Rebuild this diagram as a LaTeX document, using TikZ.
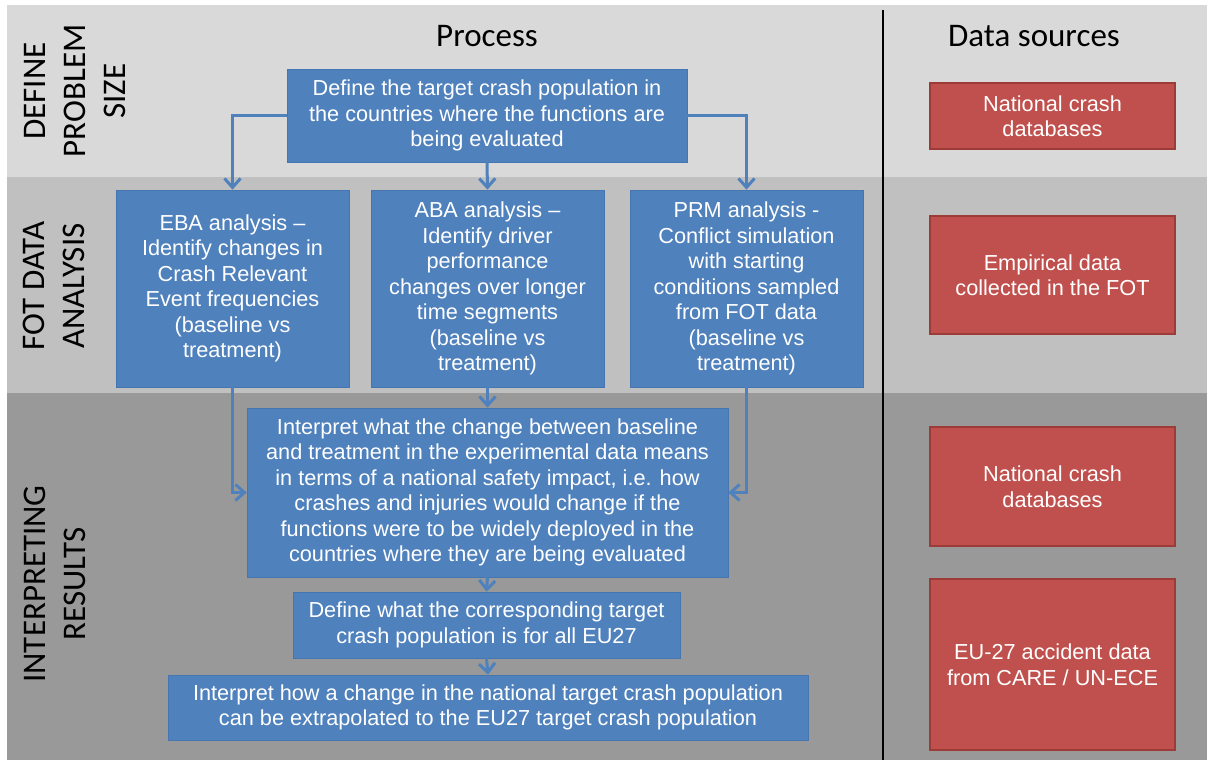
\documentclass[tikz,border=0pt]{standalone}
\usepackage{fontspec}
\setmainfont{Liberation Sans}
\newfontfamily\calib{Carlito}
\usetikzlibrary{arrows.meta}
\definecolor{bandA}{HTML}{D9D9D9}
\definecolor{bandB}{HTML}{C0C0C0}
\definecolor{bandC}{HTML}{999999}
\definecolor{boxblue}{HTML}{4F81BD}
\definecolor{boxblueline}{HTML}{4676B0}
\definecolor{boxred}{HTML}{C0504D}
\definecolor{boxredline}{HTML}{9C3B38}
\begin{document}
\begin{tikzpicture}[x=1pt,y=-1pt,
 bluebox/.style={fill=boxblue, draw=boxblueline, line width=0.6pt, text=white, align=center, inner sep=0pt, font=\fontsize{21.7}{25.5}\selectfont},
 redbox/.style={fill=boxred, draw=boxredline, line width=1.2pt, text=white, align=center, inner sep=0pt, font=\fontsize{21.7}{25.5}\selectfont, minimum width=245pt},
 rowlabel/.style={rotate=90, align=center, font=\calib\fontsize{33}{40}\selectfont},
 title/.style={font=\calib\fontsize{33}{40}\selectfont},
 arr/.style={draw=boxblue, line width=3pt, -{Straight Barb[length=9pt,width=16pt]}}]
\useasboundingbox (0,0) rectangle (1207,760);
\fill[white] (0,0) rectangle (1207,760);
\fill[bandA] (7,5) rectangle (1207,177);
\fill[bandB] (7,177) rectangle (1207,393);
\fill[bandC] (7,393) rectangle (1207,760);
\draw[black, line width=2pt] (883,10) -- (883,760);

% row labels
\node[rowlabel] (lab1) at (75,91) {DEFINE\\PROBLEM\\SIZE};
\node[rowlabel] (lab2) at (54,286) {FOT DATA\\ANALYSIS};
\node[rowlabel] (lab3) at (55,584) {INTERPRETING\\RESULTS};

% titles
\node[title] (tproc) at (487,36) {Process};
\node[title] (tdata) at (1034,36) {Data sources};

% process boxes
\node[bluebox, minimum width=400pt, minimum height=93pt] (top) at (487,115.5)
  {Define the target crash population in\\the countries where the functions are\\being evaluated};
\node[bluebox, minimum width=233pt, minimum height=197pt] (eba) at (232.5,288.5)
  {EBA analysis --\\Identify changes in\\Crash Relevant\\Event frequencies\\(baseline vs\\treatment)};
\node[bluebox, minimum width=233pt, minimum height=197pt] (aba) at (487.5,288.5)
  {ABA analysis --\\Identify driver\\performance\\changes over longer\\time segments\\(baseline vs\\treatment)};
\node[bluebox, minimum width=233pt, minimum height=197pt] (prm) at (746.5,288.5)
  {PRM analysis -\\Conflict simulation\\with starting\\conditions sampled\\from FOT data\\(baseline vs\\treatment)};
\node[bluebox, minimum width=481pt, minimum height=169pt] (big) at (487.5,492.5)
  {Interpret what the change between baseline\\and treatment in the experimental data means\\in terms of a national safety impact, i.e. how\\crashes and injuries would change if the\\functions were to be widely deployed in the\\countries where they are being evaluated};
\node[bluebox, minimum width=387pt, minimum height=66pt] (eu) at (486.5,625)
  {Define what the corresponding target\\crash population is for all EU27};
\node[bluebox, minimum width=640pt, minimum height=65pt] (last) at (488,707.5)
  {Interpret how a change in the national target crash population\\can be extrapolated to the EU27 target crash population};

% data source boxes
\node[redbox, minimum height=66pt] (r1) at (1052.5,116) {National crash\\databases};
\node[redbox, minimum height=118pt] (r2) at (1052.5,275) {Empirical data\\collected in the FOT};
\node[redbox, minimum height=119pt] (r3) at (1052.5,486.5) {National crash\\databases};
\node[redbox, minimum height=171pt] (r4) at (1052.5,664.5) {EU-27 accident data\\from CARE / UN-ECE};

% connectors
\draw[arr] (top.west) -| (eba.north);
\draw[arr] (top.south) -- (aba.north);
\draw[arr] (top.east) -| (prm.north);
\draw[arr] (eba.south) |- (big.west);
\draw[arr] (aba.south) -- (big.north);
\draw[arr] (prm.south) |- (big.east);
\draw[arr] (big.south) -- (eu.north);
\draw[arr] (eu.south) -- (last.north);
\end{tikzpicture}
\end{document}
